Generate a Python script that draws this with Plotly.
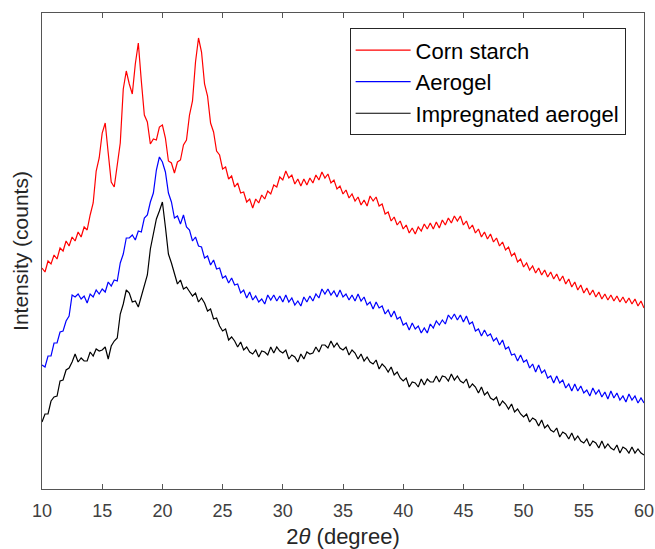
import plotly.graph_objects as go

corn_starch = [
    221, 217, 228, 225,  234, 230, 241, 238,  248, 243, 252, 248,  257, 252, 262, 259,
    274, 286, 318, 331,  356, 366, 336, 307,  302, 322, 346, 400,  418, 405, 395, 425,
    446, 408, 374, 367,  345, 350, 349, 362,  364, 351, 328, 326,  316, 327, 329, 344,
    349, 374, 388, 427,  451, 437, 405, 393,  366, 357, 338, 334,  320, 322, 310, 313,
    302, 306, 296, 297,  287, 290, 281, 290,  286, 294, 290, 298,  295, 304, 302, 312,
    309, 318, 311, 314,  305, 310, 303, 310,  304, 311, 306, 314,  309, 317, 311, 315,
    306, 309, 300, 303,  295, 299, 291, 295,  288, 292, 284, 289,  283, 293, 288, 292,
    283, 285, 275, 277,  268, 272, 264, 268,  260, 264, 256, 261,  255, 262, 258, 265,
    260, 266, 260, 267,  261, 269, 264, 271,  266, 273, 268, 273,  264, 268, 260, 264,
    256, 260, 252, 257,  250, 255, 247, 251,  243, 247, 239, 242,  233, 236, 227, 230,
    222, 226, 219, 223,  216, 221, 214, 219,  212, 217, 210, 215,  208, 213, 205, 210,
    202, 207, 199, 204,  196, 201, 194, 199,  192, 197, 190, 195,  189, 194, 188, 193,
    187, 192, 186, 191,  185, 190, 183, 188,  181,
]

aerogel = [
    124, 122, 133, 133,  146, 146, 157, 158,  168, 173, 194, 192,  195, 190, 193, 186,
    195, 192, 199, 195,  200, 197, 207, 203,  209, 208, 226, 235,  251, 251, 254, 249,
    258, 257, 271, 274,  287, 296, 319, 332,  327, 317, 296, 287,  271, 273, 265, 274,
    262, 259, 248, 252,  243, 242, 231, 233,  224, 229, 220, 221,  211, 213, 206, 211,
    204, 205, 196, 199,  191, 197, 189, 193,  187, 190, 185, 194,  189, 194, 188, 193,
    187, 194, 187, 191,  184, 188, 183, 192,  187, 193, 188, 195,  191, 200, 195, 200,
    194, 198, 192, 199,  192, 195, 189, 194,  188, 195, 188, 192,  184, 187, 180, 187,
    181, 183, 175, 179,  172, 178, 170, 172,  164, 166, 159, 166,  160, 163, 156, 161,
    156, 165, 161, 168,  164, 169, 165, 174,  170, 175, 169, 174,  167, 173, 165, 167,
    158, 160, 153, 159,  153, 155, 148, 151,  144, 149, 140, 142,  134, 135, 128, 134,
    127, 129, 121, 125,  117, 124, 116, 119,  111, 113, 106, 113,  106, 109, 101, 105,
    98, 105, 98, 103,  96, 99, 93, 101,  95, 99, 92, 97,  90, 98, 91, 96,
    89, 93, 87, 95,  89, 93, 86, 91,  86,
]

impregnated_aerogel = [
    67, 75, 75, 88,  92, 93, 108, 109,  119, 121, 127, 135,  127, 131, 128, 128,
    137, 133, 140, 138,  139, 142, 130, 143,  148, 151, 175, 185,  199, 196, 187, 188,
    182, 193, 205, 214,  240, 255, 270, 278,  287, 262, 235, 226,  215, 205, 209, 200,
    202, 197, 193, 196,  187, 191, 186, 178,  180, 170, 171, 163,  158, 160, 149, 152,
    148, 142, 147, 139,  142, 137, 135, 139,  132, 138, 137, 134,  142, 136, 142, 138,
    136, 139, 130, 134,  132, 127, 135, 130,  137, 135, 136, 142,  137, 144, 144, 141,
    148, 142, 146, 141,  139, 142, 134, 139,  136, 130, 135, 128,  132, 127, 125, 129,
    120, 125, 122, 117,  122, 114, 117, 111,  108, 111, 102, 107,  106, 102, 110, 104,
    110, 107, 107, 113,  107, 113, 112, 108,  115, 109, 113, 108,  106, 110, 101, 105,
    102, 96, 102, 94,  97, 91, 89, 92,  83, 88, 85, 80,  85, 77, 80, 75,
    72, 75, 67, 71,  69, 63, 69, 61,  64, 59, 57, 61,  52, 57, 55, 50,
    56, 49, 53, 48,  46, 50, 43, 48,  46, 41, 48, 41,  45, 41, 39, 44,
    36, 42, 40, 36,  42, 36, 40, 36,  34,
]

two_theta = [10 + 0.25 * i for i in range(len(corn_starch))]
x_ticks = [10, 15, 20, 25, 30, 35, 40, 45, 50, 55, 60]

series = [
    ("Corn starch", corn_starch, "#ff0000"),
    ("Aerogel", aerogel, "#0000ff"),
    ("Impregnated aerogel", impregnated_aerogel, "#000000"),
]

fig = go.Figure()
for name, vals, color in series:
    fig.add_trace(go.Scatter(
        x=two_theta[:len(vals)], y=vals, mode="lines", name=name,
        line=dict(color=color, width=1.2),
    ))

font_family = "Liberation Sans, Arial, sans-serif"
fig.update_layout(
    width=655, height=549,
    margin=dict(l=42, r=11, t=13, b=60, autoexpand=False),
    paper_bgcolor="white", plot_bgcolor="white",
    font=dict(family=font_family, color="#262626"),
    showlegend=True,
    legend=dict(
        x=0.511, y=0.968, xanchor="left", yanchor="top",
        bgcolor="white", bordercolor="#262626", borderwidth=1,
        font=dict(size=22, family=font_family, color="#000000"),
        itemwidth=55,
        tracegroupgap=0,
    ),
    xaxis=dict(
        range=[10, 60], tickvals=x_ticks, ticks="inside", ticklen=5,
        tickcolor="#555555", showline=True, linecolor="#555555", linewidth=1,
        mirror="allticks", showgrid=False, zeroline=False, automargin=False,
        tickfont=dict(size=18, color="#404040"), ticklabelstandoff=5,
        title=dict(text="2<i>θ</i> (degree)", font=dict(size=22, color="#262626"), standoff=12),
    ),
    yaxis=dict(
        range=[0, 476], showticklabels=False, ticks="",
        showline=True, linecolor="#555555", linewidth=1, mirror=True,
        showgrid=False, zeroline=False, automargin=False,
        title=dict(text="Intensity (counts)", font=dict(size=21, color="#262626"), standoff=6),
    ),
)

fig.write_html("out.html")
